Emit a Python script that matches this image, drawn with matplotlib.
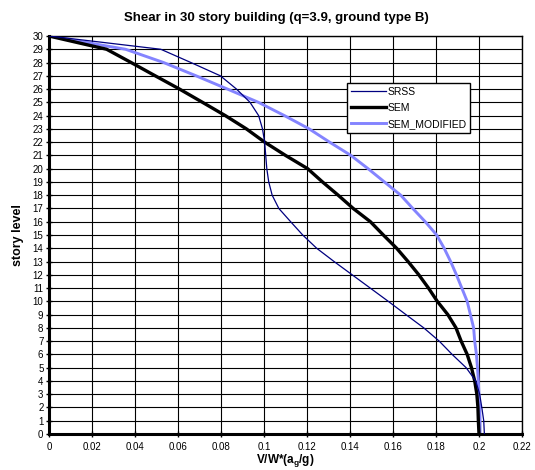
import matplotlib
matplotlib.use("Agg")
import matplotlib.pyplot as plt

# ── Données ──────────────────────────────────────────────────────────────────
story = list(range(0, 31))

srss = [0.2025, 0.2022, 0.2013, 0.2003, 0.1985, 0.1940, 0.1875, 0.1815, 0.1743, 0.1660,
        0.1578, 0.1494, 0.1410, 0.1326, 0.1245, 0.1180, 0.1124, 0.1069, 0.1038, 0.1022,
        0.1013, 0.1008, 0.1003, 0.0993, 0.0975, 0.0935, 0.0872, 0.0797, 0.0660, 0.0520,
        0.0]

sem = [0.2000, 0.1997, 0.1995, 0.1990, 0.1980, 0.1965, 0.1945, 0.1917, 0.1893, 0.1855,
       0.1806, 0.1765, 0.1720, 0.1670, 0.1617, 0.1555, 0.1495, 0.1415, 0.1345, 0.1272,
       0.1203, 0.1100, 0.1003, 0.0918, 0.0820, 0.0714, 0.0607, 0.0494, 0.0382, 0.0268,
       0.0]

sem_mod = [0.2005, 0.2005, 0.2003, 0.2000, 0.1997, 0.1993, 0.1988, 0.1980, 0.1975, 0.1960,
           0.1945, 0.1920, 0.1895, 0.1868, 0.1838, 0.1803, 0.1750, 0.1692, 0.1636, 0.1560,
           0.1484, 0.1404, 0.1305, 0.1210, 0.1095, 0.0974, 0.0830, 0.0684, 0.0533, 0.0356,
           0.0]

x_ticks = [0, 0.02, 0.04, 0.06, 0.08, 0.1, 0.12, 0.14, 0.16, 0.18, 0.2, 0.22]
x_tick_labels = ["0", "0.02", "0.04", "0.06", "0.08", "0.1", "0.12", "0.14", "0.16", "0.18", "0.2", "0.22"]

plt.rcParams["font.family"] = ["Liberation Sans", "DejaVu Sans"]

fig = plt.figure(figsize=(5.35, 4.70), dpi=100)
ax = fig.add_axes([49 / 535, 1 - 434 / 470, 473 / 535, 398 / 470])

ax.plot(srss, story, color="#000080", lw=0.9, label="SRSS", zorder=4)
ax.plot(sem, story, color="black", lw=2.4, label="SEM", zorder=3)
ax.plot(sem_mod, story, color="#8484ff", lw=2.1, label="SEM_MODIFIED", zorder=2)

ax.set_xlim(0, 0.22)
ax.set_ylim(0, 30)
ax.set_xticks(x_ticks)
ax.set_xticklabels(x_tick_labels)
ax.set_yticks(story)
ax.tick_params(axis="both", labelsize=7, direction="inout", length=4, width=1, pad=2)
ax.tick_params(axis="x", pad=4)

ax.grid(True, color="black", lw=0.8)
ax.set_axisbelow(True)

for side in ["left", "bottom"]:
    ax.spines[side].set_linewidth(2.2)
for side in ["top", "right"]:
    ax.spines[side].set_linewidth(1.0)

fig.suptitle("Shear in 30 story building (q=3.9, ground type B)",
             x=0.516, y=0.975, fontsize=9.5, fontweight="bold")
ax.set_xlabel(r"V/W*(a$_\mathregular{g}$/g)", fontsize=8.5, fontweight="bold", labelpad=0)
ax.set_ylabel("story level", fontsize=9, fontweight="bold", labelpad=6)

leg = ax.legend(loc="upper left", bbox_to_anchor=(0.630, 0.882), borderaxespad=0,
                fontsize=7.5, handlelength=3.4, handletextpad=0.1, borderpad=0.35,
                labelspacing=0.6, fancybox=False, framealpha=1, edgecolor="black")
leg.get_frame().set_linewidth(1.0)

fig.savefig("out.png", dpi=100, facecolor="white")
